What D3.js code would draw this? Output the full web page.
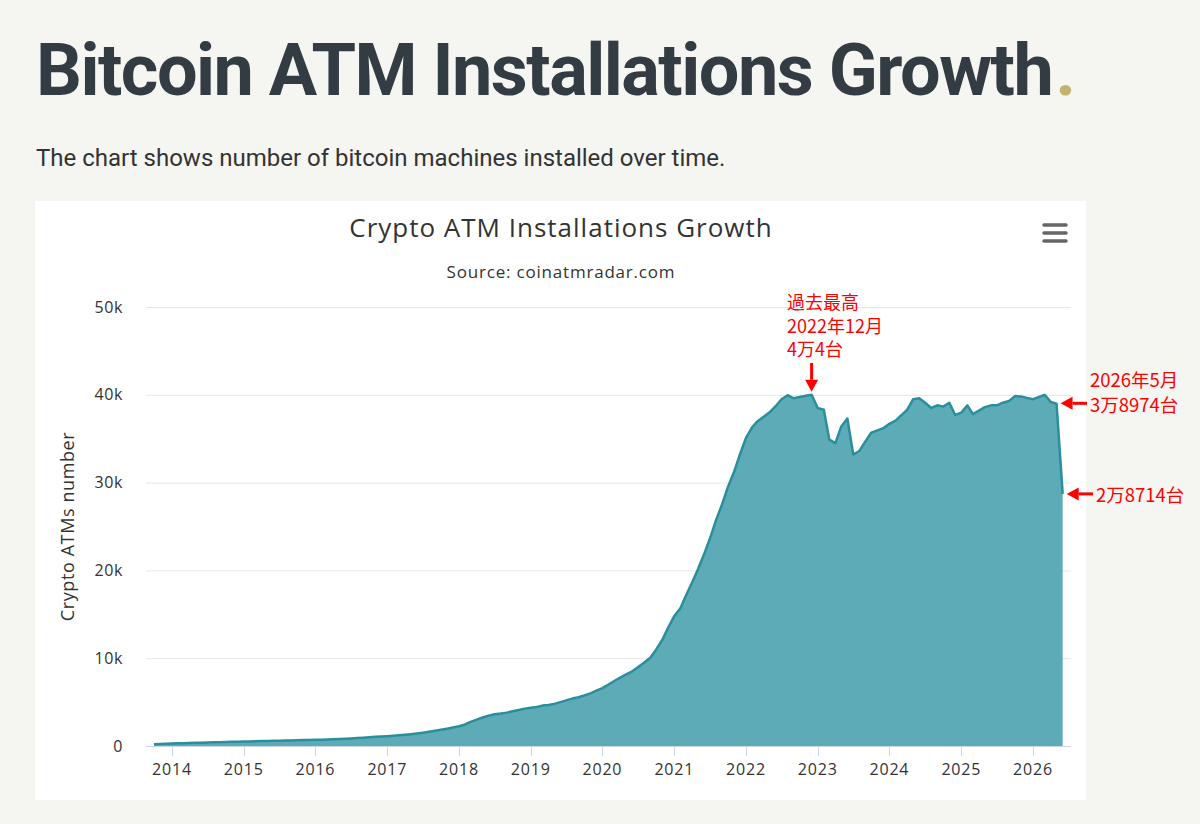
<!DOCTYPE html>
<html><head><meta charset="utf-8">
<script src="https://cdn.jsdelivr.net/npm/d3@7"></script>
<style>
html,body{margin:0;padding:0;background:#f5f5f1;}
svg{display:block;}
</style></head>
<body>
<svg id="c" width="1200" height="824"></svg>
<script>
// ---- data ----
const months = [
"2013-10","2013-11","2013-12",
"2014-01","2014-02","2014-03","2014-04","2014-05","2014-06","2014-07","2014-08","2014-09","2014-10","2014-11","2014-12",
"2015-01","2015-02","2015-03","2015-04","2015-05","2015-06","2015-07","2015-08","2015-09","2015-10","2015-11","2015-12",
"2016-01","2016-02","2016-03","2016-04","2016-05","2016-06","2016-07","2016-08","2016-09","2016-10","2016-11","2016-12",
"2017-01","2017-02","2017-03","2017-04","2017-05","2017-06","2017-07","2017-08","2017-09","2017-10","2017-11","2017-12",
"2018-01","2018-02","2018-03","2018-04","2018-05","2018-06","2018-07","2018-08","2018-09","2018-10","2018-11","2018-12",
"2019-01","2019-02","2019-03","2019-04","2019-05","2019-06","2019-07","2019-08","2019-09","2019-10","2019-11","2019-12",
"2020-01","2020-02","2020-03","2020-04","2020-05","2020-06","2020-07","2020-08","2020-09","2020-10","2020-11","2020-12",
"2021-01","2021-02","2021-03","2021-04","2021-05","2021-06","2021-07","2021-08","2021-09","2021-10","2021-11","2021-12",
"2022-01","2022-02","2022-03","2022-04","2022-05","2022-06","2022-07","2022-08","2022-09","2022-10","2022-11","2022-12",
"2023-01","2023-02","2023-03","2023-04","2023-05","2023-06","2023-07","2023-08","2023-09","2023-10","2023-11","2023-12",
"2024-01","2024-02","2024-03","2024-04","2024-05","2024-06","2024-07","2024-08","2024-09","2024-10","2024-11","2024-12",
"2025-01","2025-02","2025-03","2025-04","2025-05","2025-06","2025-07","2025-08","2025-09","2025-10","2025-11","2025-12",
"2026-01","2026-02","2026-03","2026-04","2026-05","2026-06"
];
const atms = [
190,220,250,
280,300,320,340,360,380,400,420,440,460,470,490,
500,520,540,560,580,600,610,620,630,650,670,690,
700,720,740,770,800,830,860,900,940,990,1040,1080,
1120,1170,1220,1280,1350,1430,1520,1620,1730,1850,1970,2100,
2250,2450,2750,3000,3250,3450,3620,3700,3800,3950,4100,4250,
4350,4450,4600,4670,4800,5000,5200,5400,5550,5750,6000,6300,
6600,7000,7400,7800,8150,8500,9000,9500,10050,11000,12100,13500,
14800,15700,17100,18600,20100,21800,23600,25700,27500,29500,31200,33200,
35100,36300,37000,37500,38000,38700,39500,39950,39600,39750,39900,40004,
38500,38300,34900,34500,36400,37300,33200,33600,34700,35700,35950,36200,
36700,37050,37650,38300,39500,39600,39100,38500,38800,38650,39100,37700,
37970,38800,37800,38200,38600,38800,38800,39100,39300,39850,39800,39650,
39500,39750,40000,39200,38974,28714
];
const yTicks = [0,10000,20000,30000,40000,50000];
const yTickLabels = ["0","10k","20k","30k","40k","50k"];
const xTickYears = [2014,2015,2016,2017,2018,2019,2020,2021,2022,2023,2024,2025,2026];
const pageTitle = "Bitcoin ATM Installations Growth";
const pageSubtitle = "The chart shows number of bitcoin machines installed over time.";
const chartTitle = "Crypto ATM Installations Growth";
const chartSubtitle = "Source: coinatmradar.com";
const yAxisTitle = "Crypto ATMs number";
const peakNote = ["過去最高","2022年12月","4万4台"];
const mayNote = ["2026年5月","3万8974台"];
const lastNote = ["2万8714台"];

// ---- drawing ----
const parse = d3.utcParse("%Y-%m");
const data = months.map((m,i)=>({date:parse(m), v:atms[i]}));
const svg = d3.select("#c");
const sans = "Roboto, 'Noto Sans', sans-serif";
const chartFont = "'Open Sans', 'Noto Sans', sans-serif";
const cjk = "'Noto Sans CJK JP', 'Noto Sans', sans-serif";

// page heading
const h = svg.append("text").attr("x",36).attr("y",95)
  .attr("font-family",sans).attr("font-weight",700).attr("font-size",72)
  .attr("fill","#343c43").attr("letter-spacing",-1.5);
h.append("tspan").text(pageTitle);
h.append("tspan").attr("fill","#c4b36a").attr("dx",3).text(".");
svg.append("text").attr("x",36).attr("y",166)
  .attr("font-family",sans).attr("font-size",24).attr("fill","#333")
  .text(pageSubtitle);

// chart box
svg.append("rect").attr("x",35).attr("y",201).attr("width",1051).attr("height",599).attr("fill","#fff");

const L=146, R=1071, T=307, B=746;
const x = d3.scaleUtc().domain([new Date(Date.UTC(2014,0,1)), new Date(Date.UTC(2026,0,1))]).range([172,1033]);
const y = d3.scaleLinear().domain([0,50000]).range([B,T]);

// titles
svg.append("text").attr("x",561).attr("y",237).attr("text-anchor","middle")
  .attr("font-family",chartFont).attr("font-size",26).attr("fill","#333").attr("letter-spacing",1).text(chartTitle);
svg.append("text").attr("x",561).attr("y",278).attr("text-anchor","middle")
  .attr("font-family",chartFont).attr("font-size",17).attr("fill","#333").attr("letter-spacing",0.8).text(chartSubtitle);

// grid
svg.append("g").selectAll("line").data(yTicks.slice(1)).join("line")
  .attr("x1",L).attr("x2",R).attr("y1",d=>y(d)+0.5).attr("y2",d=>y(d)+0.5)
  .attr("stroke","#e6e6e6").attr("stroke-width",1);
svg.append("g").selectAll("text").data(yTicks).join("text")
  .attr("x",123).attr("y",d=>y(d)+5.5).attr("text-anchor","end")
  .attr("font-family",chartFont).attr("font-size",16).attr("fill","#333").attr("letter-spacing",0.6)
  .text((d,i)=>yTickLabels[i]);

svg.append("text").attr("transform",`translate(74,${(T+B)/2}) rotate(-90)`)
  .attr("text-anchor","middle").attr("font-family",chartFont).attr("font-size",18).attr("fill","#333").attr("letter-spacing",0.6)
  .text(yAxisTitle);

// area
const area = d3.area().x(d=>x(d.date)).y0(B).y1(d=>y(d.v));
const line = d3.line().x(d=>x(d.date)).y(d=>y(d.v));
svg.append("path").datum(data).attr("d",area).attr("fill","#5eabb8");
svg.append("path").datum(data).attr("d",line).attr("fill","none").attr("stroke","#2a8f9d").attr("stroke-width",2.5).attr("stroke-linejoin","round");

// x axis
svg.append("line").attr("x1",L).attr("x2",R).attr("y1",B+0.5).attr("y2",B+0.5).attr("stroke","#ccd6eb");
const xt = xTickYears.map(yr=>new Date(Date.UTC(yr,0,1)));
svg.append("g").selectAll("line").data(xt).join("line")
  .attr("x1",d=>Math.round(x(d))+0.5).attr("x2",d=>Math.round(x(d))+0.5).attr("y1",B).attr("y2",B+10).attr("stroke","#ccd6eb");
svg.append("g").selectAll("text").data(xt).join("text")
  .attr("x",d=>x(d)).attr("y",775).attr("text-anchor","middle")
  .attr("font-family",chartFont).attr("font-size",16).attr("fill","#333").attr("letter-spacing",0.8)
  .text(d=>d3.utcFormat("%Y")(d));

// menu icon
svg.append("g").selectAll("line").data([225,233,241]).join("line")
  .attr("x1",1044).attr("x2",1066).attr("y1",d=>d).attr("y2",d=>d)
  .attr("stroke","#666").attr("stroke-width",3.5).attr("stroke-linecap","round");

// annotations
const red="#ff0000";
const peak = data[months.indexOf("2022-12")];
const may = data[months.indexOf("2026-05")];
const last = data[data.length-1];
svg.append("g").selectAll("text").data(peakNote).join("text")
  .attr("x",787).attr("y",(d,i)=>309+i*23.5)
  .attr("font-family",cjk).attr("font-size",18).attr("fill",red).text(d=>d);
function arrow(x1,y1,x2,y2){
  const ang=Math.atan2(y2-y1,x2-x1), hl=12, hw=6.5;
  const bx=x2-hl*Math.cos(ang), by=y2-hl*Math.sin(ang);
  svg.append("line").attr("x1",x1).attr("y1",y1).attr("x2",bx).attr("y2",by).attr("stroke",red).attr("stroke-width",3);
  svg.append("path").attr("fill",red).attr("d",
    `M${x2},${y2}L${bx+hw*Math.sin(ang)},${by-hw*Math.cos(ang)}L${bx-hw*Math.sin(ang)},${by+hw*Math.cos(ang)}Z`);
}
arrow(x(peak.date), 363, x(peak.date), y(peak.v)-3);
arrow(1087, y(may.v)-0.5, x(may.date)+4, y(may.v)-0.5);
arrow(1093, y(last.v), x(last.date)+4, y(last.v));
svg.append("g").selectAll("text").data(mayNote).join("text")
  .attr("x",1090).attr("y",(d,i)=>387+i*24.5)
  .attr("font-family",cjk).attr("font-size",18.5).attr("fill",red).text(d=>d);
svg.append("text").attr("x",1096).attr("y",502)
  .attr("font-family",cjk).attr("font-size",18.5).attr("fill",red).text(lastNote[0]);
</script>
</body></html>
